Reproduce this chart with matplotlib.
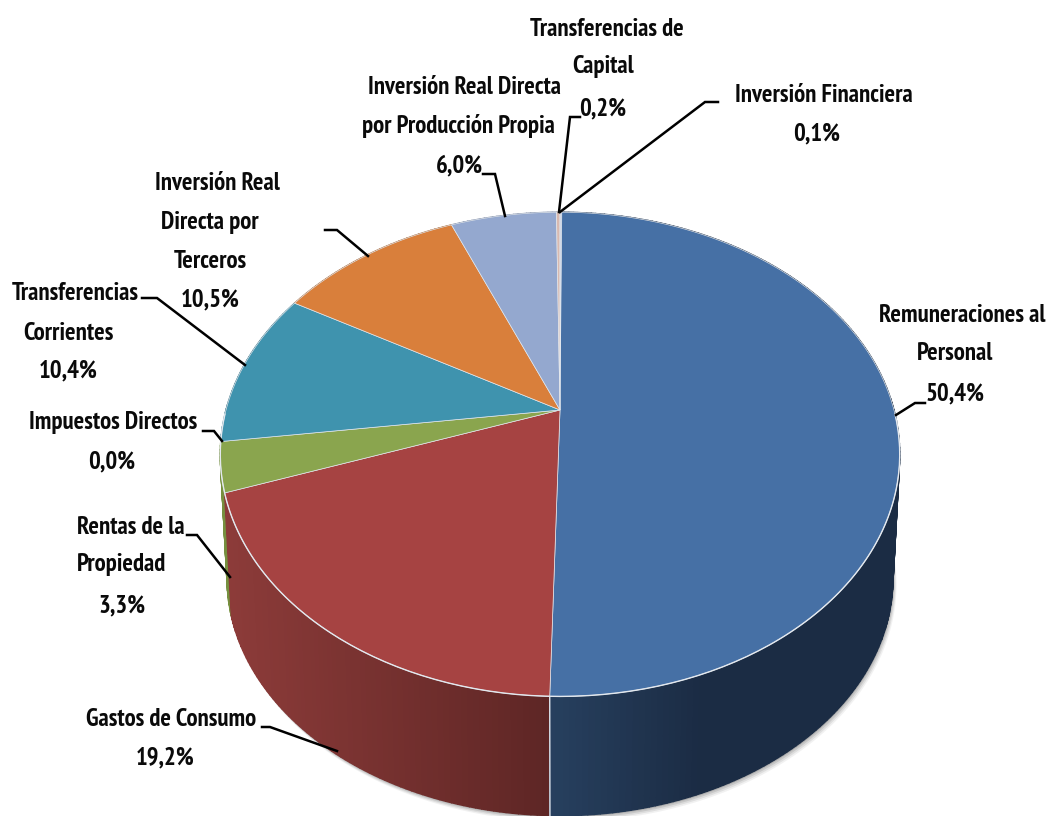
import numpy as np
import matplotlib
matplotlib.use("Agg")
import matplotlib.pyplot as plt
from matplotlib.colors import to_rgb

# slices, clockwise from the top, in the drawing order of the original
names = ["Remuneraciones al Personal", "Gastos de Consumo", "Rentas de la Propiedad",
         "Impuestos Directos", "Transferencias Corrientes", "Inversion Real Directa por Terceros",
         "Inversion Real Directa por Produccion Propia", "Transferencias de Capital",
         "Inversion Financiera"]
values = [50.4, 19.2, 3.3, 0.0, 10.4, 10.5, 6.0, 0.2, 0.1]
top_colors = ["#4670a5", "#a64342", "#8aa54e", "#8064a2", "#3f93ae", "#d97f3b", "#94a8cf", "#d8b9b0", "#c9d4e6"]
side_left = ["#27405f", "#8c3b39", "#76903f", "#5f4a7a", "#2f6f84", "#a5602c", "#6f7f9d", "#a08a84", "#98a0ae"]
side_right = ["#1b2c44", "#5e2625", "#76903f", "#5f4a7a", "#2f6f84", "#a5602c", "#6f7f9d", "#a08a84", "#98a0ae"]

# (text, x centre, y centre) per printed line
label_lines = [
    ("Transferencias de", 607, 29), ("Capital", 603, 67), ("0,2%", 603, 109),
    ("Inversión Financiera", 824, 96), ("0,1%", 817, 134),
    ("Inversión Real Directa", 465, 88), ("por Producción Propia", 458, 126), ("6,0%", 459, 166),
    ("Inversión Real", 217, 184), ("Directa por", 210, 223), ("Terceros", 210, 261), ("10,5%", 210, 300),
    ("Transferencias", 75, 294), ("Corrientes", 68, 333), ("10,4%", 68, 371),
    ("Impuestos Directos", 113, 423), ("0,0%", 112, 462),
    ("Rentas de la", 131, 527), ("Propiedad", 122, 565), ("3,3%", 122, 606),
    ("Gastos de Consumo", 171, 719), ("19,2%", 165, 758),
    ("Remuneraciones al", 962, 316), ("Personal", 955, 354), ("50,4%", 955, 394),
]
leaders = [
    [(925, 403), (915, 403), (896, 415)],
    [(718, 102), (705, 102), (560, 212)],
    [(580, 117), (570, 117), (559, 212)],
    [(483, 174), (495, 174), (505, 216)],
    [(325, 230), (337, 230), (368, 256)],
    [(142, 298), (157, 298), (245, 365)],
    [(203, 431), (214, 431), (222, 441)],
    [(187, 535), (197, 535), (230, 577)],
    [(262, 727), (270, 727), (337, 751)],
]

# perspective disc, pixel space
CX, CY = 560, 410
A, B, P = 334, 234, 0.183
DEPTH, SHRINK = 125, 0.98


def top_xy(theta):
    u, v = np.sin(theta), np.cos(theta)
    w = 1 + P * v
    return CX + A * u / w, CY - B * v / w


def bottom_xy(theta):
    x, y = top_xy(theta)
    return CX + SHRINK * (x - CX), CY + DEPTH + SHRINK * (y - CY)


fig = plt.figure(figsize=(10.48, 8.16), dpi=100)
ax = fig.add_axes([0, 0, 1, 1])
ax.set_xlim(0, 1048)
ax.set_ylim(816, 0)
ax.axis("off")

edges = 2 * np.pi * np.concatenate([[0], np.cumsum(values)]) / 100
circle = np.linspace(0, 2 * np.pi, 361)

# soft shadow under the wall
bx, by = bottom_xy(circle)
for off, alpha in zip([6, 4.5, 3, 1.5], [0.08, 0.12, 0.16, 0.22]):
    ax.fill(bx + off * 0.6, by + off, color="#555555", alpha=alpha, lw=0, zorder=1)

# outer wall, cut in thin strips for the gradient
strips = []
for i in range(len(values)):
    if values[i] == 0:
        continue
    th = np.linspace(edges[i], edges[i + 1], max(2, int(values[i] * 4) + 2))
    for t0, t1 in zip(th[:-1], th[1:]):
        strips.append((i, t0, t1))
strips.sort(key=lambda s: np.cos(s[1]), reverse=True)

for i, t0, t1 in strips:
    tx, ty = top_xy(np.array([t0, t1]))
    ox, oy = bottom_xy(np.array([t1, t0]))
    if i == 1:
        f = np.clip((tx.mean() - 230) / 320, 0, 1)
    else:
        f = np.clip((tx.mean() - 549) / 150, 0, 1)
    col = (1 - f) * np.array(to_rgb(side_left[i])) + f * np.array(to_rgb(side_right[i]))
    ax.fill(np.r_[tx, ox], np.r_[ty, oy], color=col, lw=1, zorder=2)

# light seam on the front wall
sx, sy = top_xy(edges[1])
ex, ey = bottom_xy(edges[1])
ax.plot([sx, ex], [sy, ey], color="#dfe5ec", lw=1, zorder=3)

# top face
for i in range(len(values)):
    if values[i] == 0:
        continue
    th = np.linspace(edges[i], edges[i + 1], max(2, int(values[i] * 4) + 2))
    x, y = top_xy(th)
    ax.fill(np.r_[CX, x], np.r_[CY, y], facecolor=top_colors[i], edgecolor="#e3e8ee", lw=0.5, zorder=4)

# the rim only catches the light along the front
front = circle[(circle > np.pi / 2) & (circle < 3 * np.pi / 2)]
tx, ty = top_xy(front)
ax.plot(tx, ty, color="#e3e8ee", lw=1, zorder=5)

for pts in leaders:
    xs, ys = zip(*pts)
    ax.plot(xs, ys, color="black", lw=1.8, solid_joinstyle="miter", zorder=6)

for text, x, y in label_lines:
    ax.text(x, y, text, ha="center", va="center", fontsize=17.8, fontweight="bold",
            family=["PT Sans Narrow", "Roboto Condensed", "Liberation Sans", "DejaVu Sans"],
            color="#0a0a0a", zorder=7)

fig.savefig("out.png", dpi=100)
